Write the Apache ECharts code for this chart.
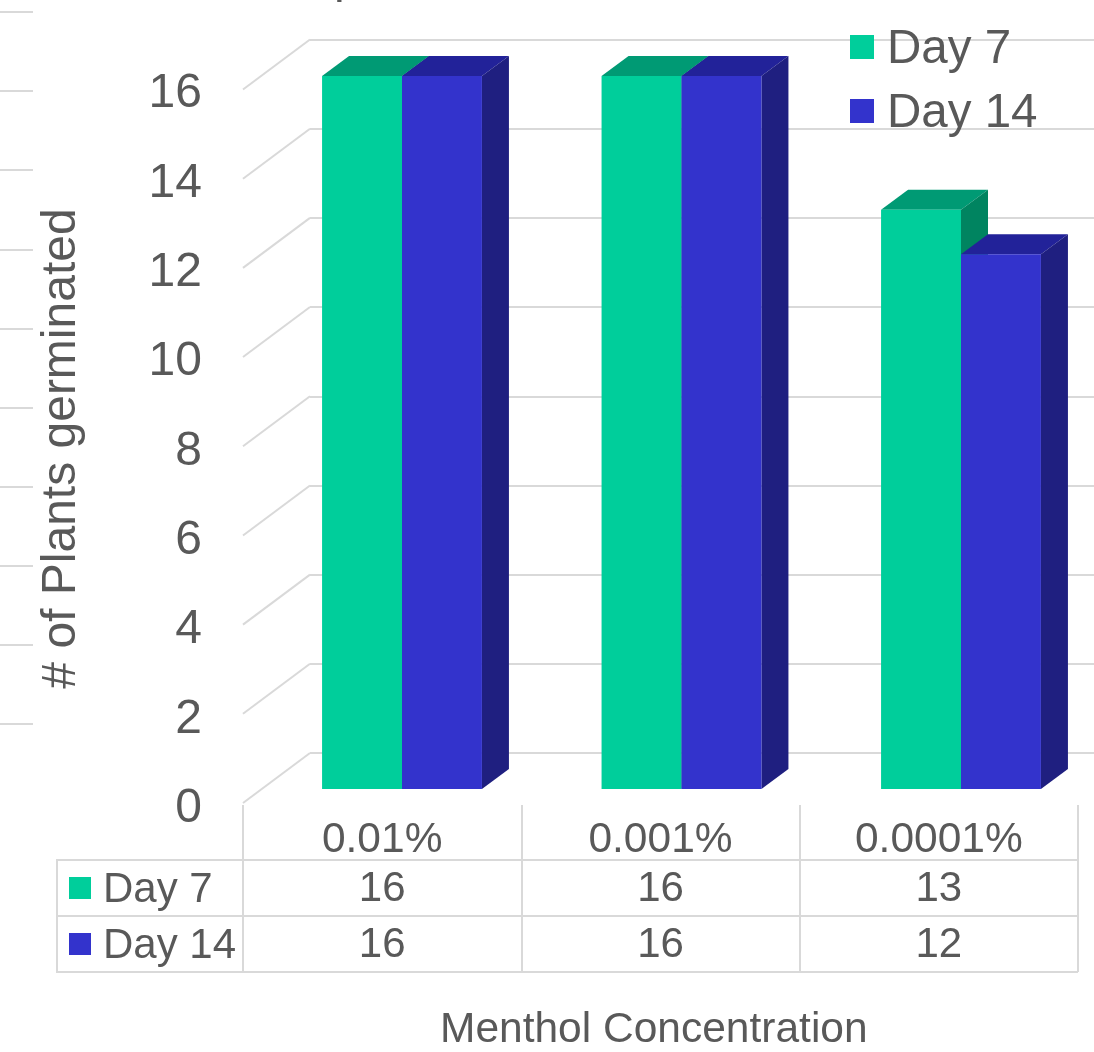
<!DOCTYPE html>
<html>
<head>
<meta charset="utf-8">
<title>Plants germinated by menthol concentration</title>
<script src="https://cdn.jsdelivr.net/npm/echarts@6/dist/echarts.min.js"></script>
<style>
  html, body { margin: 0; padding: 0; background: #fff; }
  #chart { width: 1094px; height: 1052px; }
</style>
</head>
<body>
<div id="chart"></div>
<script>
const concentrations = ['0.01%', '0.001%', '0.0001%']
const day7 = [16, 16, 13]
const day14 = [16, 16, 12]
const seriesNames = ['Day 7', 'Day 14']
const yTicks = [0, 2, 4, 6, 8, 10, 12, 14, 16]

const FONT = '"Liberation Sans", Arial, sans-serif'
const TEXT = '#595959'
const LINE = '#d9d9d9'
const GREEN = { front: '#00ce9b', top: '#009a74', side: '#008460' }
const BLUE = { front: '#3333cc', top: '#222299', side: '#1f1f80' }

const chart = echarts.init(document.getElementById('chart'))

// 3d column: front face plus top and right side, drawn through the axis scale
function columnRenderer(colors, leftOfCentre) {
  return function (params, api) {
    const base = api.coord([api.value(0), 0])
    const head = api.coord([api.value(0), api.value(1)])
    const w = api.size([1, 0])[0] * 0.286
    const x0 = leftOfCentre ? base[0] - w : base[0]
    const x1 = x0 + w
    const dx = 27
    const dy = 20
    return {
      type: 'group',
      children: [
        {
          type: 'polygon',
          shape: { points: [[x0, head[1]], [x0 + dx, head[1] - dy], [x1 + dx, head[1] - dy], [x1, head[1]]] },
          style: { fill: colors.top }
        },
        {
          type: 'polygon',
          shape: { points: [[x1, head[1]], [x1 + dx, head[1] - dy], [x1 + dx, base[1] - dy], [x1, base[1]]] },
          style: { fill: colors.side }
        },
        {
          type: 'rect',
          shape: { x: x0, y: head[1], width: w, height: base[1] - head[1] },
          style: { fill: colors.front }
        }
      ]
    }
  }
}

// slanted lines from the back wall down to the front edge
function slantRenderer(params, api) {
  const p = api.coord([0, api.value(0)])
  return {
    type: 'line',
    shape: { x1: p[0], y1: p[1], x2: p[0] - 67, y2: p[1] + 50 },
    style: { stroke: LINE, lineWidth: 2 }
  }
}

const tableCells = []
concentrations.forEach((c, i) => {
  tableCells.push([c, seriesNames[0], day7[i]])
  tableCells.push([c, seriesNames[1], day14[i]])
})

const option = {
  animation: false,
  backgroundColor: '#fff',
  textStyle: { fontFamily: FONT },
  title: [
    // top of the picture cuts the chart title, only a descender is left
    { text: 'p', left: 329, top: -50, textStyle: { fontFamily: FONT, fontSize: 48, fontWeight: 'normal', color: TEXT } },
    { text: 'Menthol Concentration', left: 435, top: 1004, textStyle: { fontFamily: FONT, fontSize: 42.5, fontWeight: 'normal', color: TEXT } }
  ],
  legend: {
    data: seriesNames,
    orient: 'vertical',
    left: 845,
    top: 21,
    icon: 'rect',
    itemWidth: 24,
    itemHeight: 24,
    itemGap: 16,
    selectedMode: false,
    formatter: (name) => `{t|${name}}`,
    textStyle: {
      rich: {
        t: { fontFamily: FONT, fontSize: 47.5, color: TEXT, padding: [6, 0, 0, 8] }
      }
    }
  },
  grid: [
    { left: 243, top: 91, width: 835, height: 715, outerBoundsMode: 'none' },     // y labels
    { left: 310, top: 39.5, width: 784, height: 713.5, outerBoundsMode: 'none' }, // back wall
    { left: 262.25, top: 76, width: 838.5, height: 713, outerBoundsMode: 'none' },// columns
    { left: 243, top: 860, width: 835, height: 112, outerBoundsMode: 'none' },    // data table
    { left: 0, top: 12, width: 33, height: 712, outerBoundsMode: 'none' }         // cut off marks at the left edge
  ],
  xAxis: [
    { gridIndex: 0, type: 'value', min: 0, max: 1, show: false },
    { gridIndex: 1, type: 'value', min: 0, max: 1, show: false },
    { gridIndex: 2, type: 'category', data: concentrations, show: false },
    {
      gridIndex: 3,
      type: 'category',
      position: 'top',
      data: concentrations,
      axisLine: { show: false },
      axisTick: { show: true, length: 55, lineStyle: { color: LINE, width: 2 } },
      axisLabel: { fontFamily: FONT, fontSize: 42.5, color: TEXT, margin: -2 },
      splitLine: { show: true, lineStyle: { color: LINE, width: 2 } }
    },
    { gridIndex: 4, type: 'value', min: 0, max: 1, show: false }
  ],
  yAxis: [
    {
      gridIndex: 0,
      type: 'value',
      min: 0,
      max: 16,
      interval: 2,
      name: '# of Plants germinated',
      nameLocation: 'middle',
      nameGap: 157,
      nameTextStyle: { fontFamily: FONT, fontSize: 48, color: TEXT },
      axisLine: { show: false },
      axisTick: { show: false },
      splitLine: { show: false },
      axisLabel: {
        margin: 41,
        formatter: (v) => `{v|${v}}`,
        rich: {
          v: { fontFamily: FONT, fontSize: 48, color: TEXT, padding: [6, 0, 0, 0] }
        }
      }
    },
    {
      gridIndex: 1,
      type: 'value',
      min: 0,
      max: 16,
      interval: 2,
      axisLine: { show: false },
      axisTick: { show: false },
      axisLabel: { show: false },
      splitLine: { show: true, lineStyle: { color: LINE, width: 2 } }
    },
    { gridIndex: 2, type: 'value', min: 0, max: 16, show: false },
    {
      gridIndex: 3,
      type: 'category',
      inverse: true,
      data: seriesNames,
      axisLine: { show: false },
      axisTick: { show: true, length: 186, lineStyle: { color: LINE, width: 2 } },
      splitLine: { show: true, lineStyle: { color: LINE, width: 2 } },
      axisLabel: {
        align: 'left',
        margin: 174,
        fontFamily: FONT,
        fontSize: 42,
        color: TEXT,
        formatter: (v) => `{${v === seriesNames[0] ? 'a' : 'b'}|}{t|${v}}`,
        rich: {
          a: { width: 22, height: 22, backgroundColor: GREEN.front },
          b: { width: 22, height: 22, backgroundColor: BLUE.front },
          t: { fontFamily: FONT, fontSize: 42, color: TEXT, padding: [4, 0, 0, 12] }
        }
      }
    },
    {
      gridIndex: 4,
      type: 'value',
      min: 0,
      max: 9,
      interval: 1,
      axisLine: { show: false },
      axisTick: { show: false },
      axisLabel: { show: false },
      splitLine: { show: true, lineStyle: { color: LINE, width: 2 } }
    }
  ],
  series: [
    {
      name: 'wall',
      type: 'custom',
      xAxisIndex: 1,
      yAxisIndex: 1,
      silent: true,
      renderItem: slantRenderer,
      encode: { y: 0 },
      data: yTicks.map((v) => [v])
    },
    {
      name: seriesNames[0],
      type: 'custom',
      xAxisIndex: 2,
      yAxisIndex: 2,
      itemStyle: { color: GREEN.front },
      renderItem: columnRenderer(GREEN, true),
      encode: { x: 0, y: 1 },
      data: day7.map((v, i) => [i, v])
    },
    {
      name: seriesNames[1],
      type: 'custom',
      xAxisIndex: 2,
      yAxisIndex: 2,
      itemStyle: { color: BLUE.front },
      renderItem: columnRenderer(BLUE, false),
      encode: { x: 0, y: 1 },
      data: day14.map((v, i) => [i, v])
    },
    {
      name: 'table',
      type: 'scatter',
      xAxisIndex: 3,
      yAxisIndex: 3,
      symbolSize: 1,
      silent: true,
      itemStyle: { color: 'transparent', opacity: 1 },
      label: {
        show: true,
        position: 'inside',
        offset: [0, 1],
        formatter: (p) => String(p.value[2]),
        fontFamily: FONT,
        fontSize: 42,
        color: TEXT
      },
      data: tableCells
    }
  ],
  graphic: [
    {
      type: 'line',
      shape: { x1: 57, y1: 859, x2: 57, y2: 973 },
      style: { stroke: LINE, lineWidth: 2 }
    }
  ]
}

chart.setOption(option)
</script>
</body>
</html>
